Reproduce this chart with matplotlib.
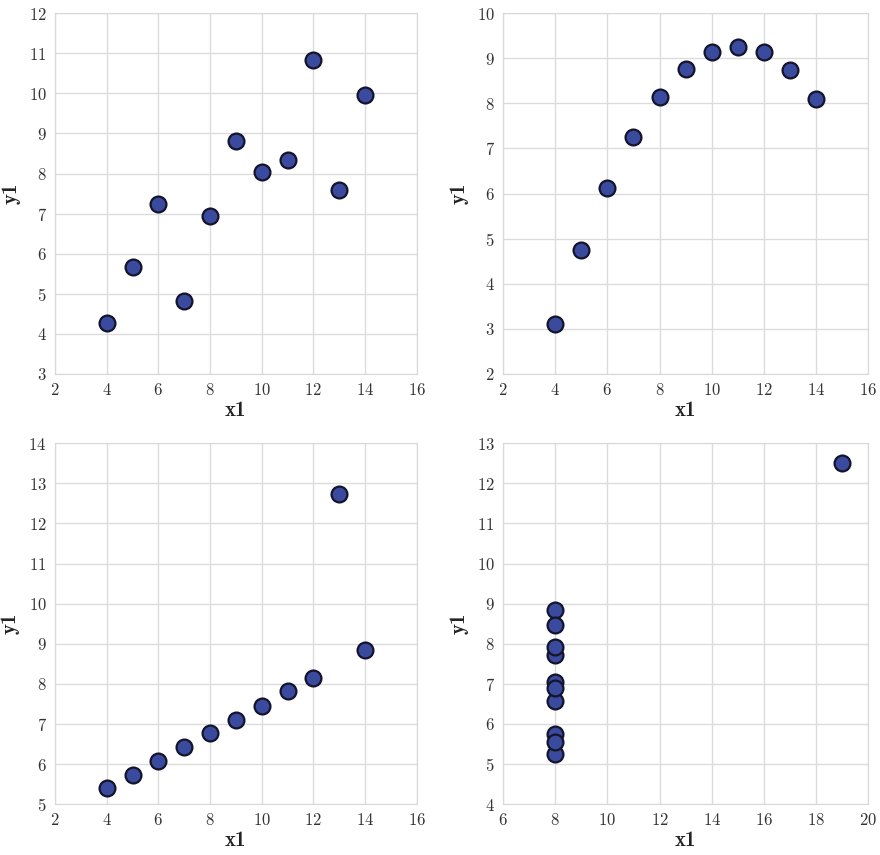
import matplotlib
matplotlib.use("Agg")
import matplotlib.pyplot as plt

# Anscombe's quartet
x1 = [10, 8, 13, 9, 11, 14, 6, 4, 12, 7, 5]
y1 = [8.04, 6.95, 7.58, 8.81, 8.33, 9.96, 7.24, 4.26, 10.84, 4.82, 5.68]
y2 = [9.14, 8.14, 8.74, 8.77, 9.26, 8.10, 6.13, 3.10, 9.13, 7.26, 4.74]
y3 = [7.46, 6.77, 12.74, 7.11, 7.81, 8.84, 6.08, 5.39, 8.15, 6.42, 5.73]
x4 = [8, 8, 8, 8, 8, 8, 8, 19, 8, 8, 8]
y4 = [6.58, 5.76, 7.71, 8.84, 8.47, 7.04, 5.25, 12.50, 5.56, 7.91, 6.89]

plt.rcParams["font.family"] = "cmr10"
plt.rcParams["axes.formatter.use_mathtext"] = True

fig = plt.figure(figsize=(8.8, 8.55), dpi=100)

panels = [
    (x1, y1, (2, 16), (3, 12), [0.0625, 0.5626, 0.411, 0.422]),
    (x1, y2, (2, 16), (2, 10), [0.5716, 0.5626, 0.415, 0.422]),
    (x1, y3, (2, 16), (5, 14), [0.0625, 0.0595, 0.411, 0.422]),
    (x4, y4, (6, 20), (4, 13), [0.5716, 0.0595, 0.415, 0.422]),
]

for xs, ys, xl, yl, pos in panels:
    ax = fig.add_axes(pos)
    ax.scatter(xs, ys, s=130, color="#3a4a9e", edgecolor="#14142a",
               linewidth=1.6, zorder=3)
    ax.set_xlim(*xl)
    ax.set_ylim(*yl)
    ax.set_xticks(range(xl[0], xl[1] + 1, 2))
    ax.set_yticks(range(yl[0], yl[1] + 1))
    ax.grid(True, color="#dcdcdc", linewidth=1.0)
    ax.set_axisbelow(True)
    for s in ax.spines.values():
        s.set_color("#d8d8d8")
    ax.tick_params(length=0, labelsize=12, colors="#333333", pad=6)
    ax.set_xlabel("x1", fontfamily="cmb10", fontsize=15, color="#222222", labelpad=2)
    ax.set_ylabel("y1", fontfamily="cmb10", fontsize=15, color="#222222", labelpad=6)

fig.savefig("out.png", dpi=100)
